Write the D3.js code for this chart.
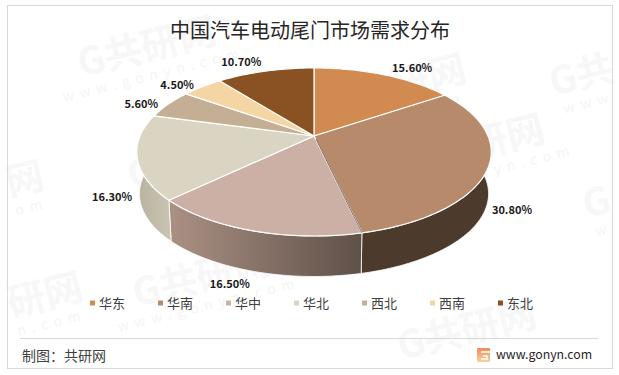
<!DOCTYPE html>
<html>
<head>
<meta charset="utf-8">
<script src="https://cdn.jsdelivr.net/npm/d3@7"></script>
<style>
  html, body { margin: 0; padding: 0; background: #fff; }
  svg { display: block; }
  text { font-family: "Noto Sans CJK SC", "Noto Sans", sans-serif; }
</style>
</head>
<body>
<div class="chartDiv"></div>
<script>
  // Data
  var regions = ["华东", "华南", "华中", "华北", "西北", "西南", "东北"];
  var shares = [15.6, 30.8, 16.5, 16.3, 5.6, 4.5, 10.7];
  var topColors = ["#d18a4f", "#b88a6c", "#cdb0a5", "#d9d5c2", "#c4af94", "#f4d6a4", "#8a5222"];
  var wallFrom = ["#8a5c35", "#4c3a2c", "#5f5048", "#cac5b2", "#a39480", "#a89070", "#5c3716"];
  var wallTo = ["#8a5c35", "#4c3a2c", "#ab9184", "#b8b29f", "#a39480", "#a89070", "#5c3716"];
  var titleText = "中国汽车电动尾门市场需求分布";
  var sourceText = "制图：共研网";
  var siteText = "www.gonyn.com";

  // Variables
  var width = 619;
  var height = 375;

  var svgObj = d3.select('.chartDiv').append('svg')
      .attr('width', width)
      .attr('height', height);
  var defs = svgObj.append('defs');

  // faint background stamps, the ones at the page edge only show their inner part
  var stampSpots = [
    [150, 60, 'G共研网', 'www.gonyn.com'],
    [400, 98, 'G共研网', 'gonyn.com'],
    [585, 88, 'G共', 'www'],
    [28, 192, '网', 'om'],
    [200, 172, 'G共研网', 'www.gonyn'],
    [205, 290, 'G共研网', 'www.gonyn.com'],
    [48, 308, '研网', 'n.com'],
    [510, 150, '研网', 'gonyn.com'],
    [600, 215, 'G', 'w'],
    [470, 343, 'G共研网', '']
  ];
  var stampG = svgObj.append('g').attr('class', 'stamps');
  stampSpots.forEach(function (p) {
    var g = stampG.append('g').attr('transform', 'translate(' + p[0] + ',' + p[1] + ') rotate(-14)');
    g.append('text').attr('text-anchor', 'middle').attr('font-size', 38).attr('font-weight', 700)
      .attr('fill', '#f7f7f7').text(p[2]);
    g.append('text').attr('text-anchor', 'middle').attr('y', 20).attr('font-size', 14)
      .attr('letter-spacing', 6).attr('fill', '#f5f5f5').text(p[3]);
  });

  // frame
  svgObj.append('rect').attr('x', 7.5).attr('y', 5.5).attr('width', 605).attr('height', 363)
    .attr('fill', 'none').attr('stroke', '#d9d9d9');
  svgObj.append('line').attr('x1', 20).attr('x2', 598).attr('y1', 338.5).attr('y2', 338.5)
    .attr('stroke', '#d9d9d9');

  svgObj.append('text').attr('x', 310).attr('y', 38).attr('text-anchor', 'middle')
    .attr('font-size', 20).attr('fill', '#262626').text(titleText);

  // Pie seen in perspective: unit circle mapped through a small homography
  var apex = [314, 136];
  var spanX = 174, spanY = 81, tilt = -0.19;
  var drop = 42, shrink = 0.985;

  function rim(angle, lower) {
    var u = Math.sin(angle), v = -Math.cos(angle);
    var w = 1 + tilt * v;
    var x = spanX * u / w, y = spanY * v / w;
    if (lower) return [apex[0] + x * shrink, apex[1] + drop + y * shrink];
    return [apex[0] + x, apex[1] + y];
  }

  var pt = d3.pie().sort(null).value(function (d) { return d; });
  var arcs = pt(shares);

  function rimPoints(d, lower) {
    var n = Math.max(2, Math.ceil((d.endAngle - d.startAngle) * 40));
    return d3.range(n + 1).map(function (i) {
      return rim(d.startAngle + (d.endAngle - d.startAngle) * i / n, lower);
    });
  }
  var lineFn = d3.line();

  arcs.forEach(function (d, i) {
    var grad = defs.append('linearGradient').attr('id', 'wall' + i);
    grad.append('stop').attr('offset', '0%').attr('stop-color', wallTo[i]);
    grad.append('stop').attr('offset', '100%').attr('stop-color', wallFrom[i]);
  });

  // side walls first, the top face covers whatever is behind
  svgObj.append('g').selectAll('path')
    .data(arcs)
    .enter().append('path')
    .attr('d', function (d) {
      return lineFn(rimPoints(d, false).concat(rimPoints(d, true).reverse())) + 'Z';
    })
    .attr('fill', function (d, i) { return 'url(#wall' + i + ')'; })
    .attr('stroke', '#fff')
    .attr('stroke-width', 0.8);

  svgObj.append('g').selectAll('path')
    .data(arcs)
    .enter().append('path')
    .attr('d', function (d) {
      return lineFn([apex].concat(rimPoints(d, false))) + 'Z';
    })
    .attr('fill', function (d, i) { return topColors[i]; })
    .attr('stroke', '#fff')
    .attr('stroke-width', 1.2)
    .attr('stroke-linejoin', 'round');

  // dark seam between 华南 and 华中
  svgObj.append('path')
    .attr('d', lineFn([[apex[0] + 2, apex[1] + 3], rim(arcs[2].startAngle)]))
    .attr('stroke', '#5a4a40').attr('stroke-width', 0.8).attr('fill', 'none');

  // labels: pushed off the rim point of each slice's middle angle
  var labelNudge = [[28, -7], [24, 42], [-23, 53], [-25, 40], [-27, 0], [-25, -2], [-24, -9]];
  svgObj.append('g').selectAll('text')
    .data(arcs)
    .enter().append('text')
    .attr('transform', function (d, i) {
      var p = rim((d.startAngle + d.endAngle) / 2);
      return 'translate(' + (p[0] + labelNudge[i][0]) + ',' + (p[1] + labelNudge[i][1]) + ')';
    })
    .attr('text-anchor', 'middle')
    .attr('dy', '0.35em')
    .attr('font-size', 11)
    .attr('font-weight', 700)
    .attr('font-family', '"Noto Sans", sans-serif')
    .attr('fill', '#1a1a1a')
    .text(function (d) { return d.value.toFixed(2) + '%'; });

  // legend
  var legendX = d3.scalePoint().domain(regions).range([92, 500]);
  var legend = svgObj.append('g').selectAll('g')
    .data(regions)
    .enter().append('g')
    .attr('transform', function (d) { return 'translate(' + legendX(d) + ',303)'; });
  legend.append('rect').attr('x', -2).attr('y', -2.5).attr('width', 5).attr('height', 5)
    .attr('fill', function (d, i) { return topColors[i]; });
  legend.append('text').attr('x', 7).attr('dy', '0.38em').attr('font-size', 13)
    .attr('fill', '#404040').text(function (d) { return d; });

  // footer
  svgObj.append('text').attr('x', 22).attr('y', 361).attr('font-size', 14)
    .attr('fill', '#404040').text(sourceText);
  var logoGrad = defs.append('linearGradient').attr('id', 'logoGrad').attr('x2', '0').attr('y2', '1');
  logoGrad.append('stop').attr('offset', '0%').attr('stop-color', '#f08a5a');
  logoGrad.append('stop').attr('offset', '100%').attr('stop-color', '#f8d49a');
  svgObj.append('rect').attr('x', 477).attr('y', 348).attr('width', 13).attr('height', 14)
    .attr('rx', 1).attr('fill', 'url(#logoGrad)');
  svgObj.append('path').attr('d', 'M481 352H490M483 356H487V359H481')
    .attr('stroke', '#fff').attr('stroke-width', 1.6).attr('fill', 'none');
  svgObj.append('text').attr('x', 496).attr('y', 359).attr('font-size', 12.3)
    .attr('font-family', '"Noto Sans", sans-serif').attr('fill', '#262626').text(siteText);
</script>
</body>
</html>
